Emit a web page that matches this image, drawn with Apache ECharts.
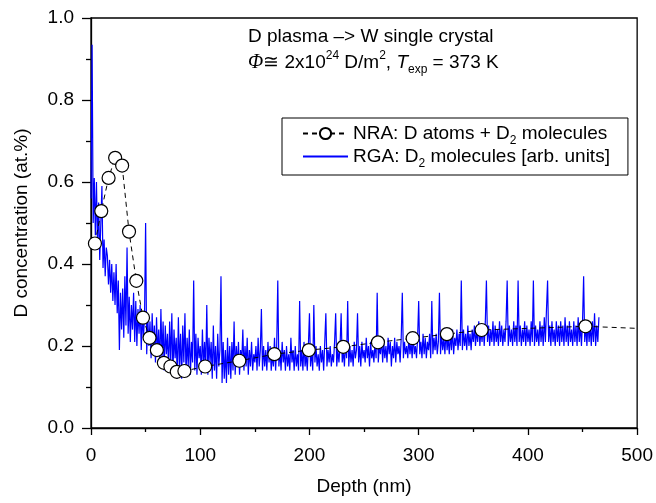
<!DOCTYPE html>
<html>
<head>
<meta charset="utf-8">
<script src="https://cdn.jsdelivr.net/npm/echarts@6/dist/echarts.min.js"></script>
<style>html,body{margin:0;padding:0;background:#fff}#c{width:656px;height:503px}</style>
</head>
<body>
<div id="c"></div>
<script>
// NRA: D atoms + D2 molecules (depth nm, concentration at.%)
const nraDepth = [3.6, 9.4, 16.1, 22.1, 28.5, 34.8, 41.5, 47.6, 53.6, 60.3, 66.7, 72.7, 78.5, 85.5, 104.5, 135.8, 167.9, 199.4, 230.9, 262.7, 294.5, 325.8, 357.6, 452.7, 500];
const nraConc  = [0.45, 0.529, 0.61, 0.659, 0.64, 0.479, 0.359, 0.269, 0.22, 0.19, 0.159, 0.15, 0.137, 0.139, 0.15, 0.164, 0.18, 0.19, 0.198, 0.209, 0.219, 0.229, 0.239, 0.248, 0.243];
// RGA: D2 molecules, sampled every 1 nm from 0 nm
const rgaStart = 0;
const rgaStep = 1;
const rgaValues = [
0.56,0.935,0.50,0.61,0.47,0.60,0.44,0.55,0.41,0.50,
0.59,0.39,0.46,0.37,0.44,0.42,0.35,0.41,0.33,0.40,
0.31,0.38,0.30,0.40,0.28,0.36,0.19,0.33,0.24,0.34,
0.22,0.37,0.25,0.44,0.23,0.32,0.21,0.30,0.24,0.33,
0.21,0.31,0.20,0.29,0.23,0.30,0.19,0.28,0.22,0.27,
0.50,0.18,0.27,0.20,0.26,0.17,0.28,0.19,0.25,0.16,
0.27,0.18,0.24,0.15,0.29,0.17,0.26,0.14,0.25,0.18,
0.23,0.14,0.26,0.16,0.28,0.13,0.24,0.17,0.22,0.12,
0.27,0.15,0.23,0.12,0.25,0.16,0.28,0.13,0.22,0.15,
0.24,0.13,0.21,0.16,0.36,0.14,0.23,0.13,0.22,0.17,
0.20,0.13,0.24,0.15,0.21,0.14,0.30,0.13,0.22,0.16,
0.21,0.12,0.25,0.14,0.20,0.12,0.23,0.15,0.19,0.37,
0.11,0.21,0.12,0.19,0.11,0.22,0.13,0.20,0.12,0.21,
0.14,0.26,0.13,0.20,0.15,0.21,0.13,0.19,0.16,0.24,
0.14,0.20,0.15,0.22,0.13,0.19,0.15,0.21,0.14,0.18,
0.16,0.20,0.14,0.22,0.15,0.19,0.29,0.14,0.20,0.15,
0.19,0.14,0.21,0.16,0.20,0.14,0.18,0.15,0.22,0.14,
0.20,0.36,0.15,0.19,0.14,0.21,0.16,0.19,0.14,0.20,
0.15,0.18,0.14,0.22,0.16,0.19,0.14,0.20,0.15,0.18,
0.14,0.31,0.15,0.19,0.14,0.21,0.15,0.18,0.14,0.20,
0.28,0.15,0.19,0.14,0.30,0.16,0.20,0.15,0.18,0.14,
0.20,0.16,0.19,0.14,0.21,0.28,0.15,0.19,0.16,0.20,
0.15,0.18,0.16,0.21,0.28,0.15,0.19,0.16,0.20,0.28,
0.16,0.19,0.15,0.21,0.17,0.31,0.15,0.20,0.16,0.19,
0.15,0.21,0.17,0.19,0.28,0.16,0.20,0.15,0.21,0.17,
0.19,0.16,0.22,0.17,0.20,0.15,0.21,0.17,0.19,0.16,
0.21,0.17,0.33,0.16,0.20,0.18,0.22,0.16,0.21,0.17,
0.20,0.16,0.22,0.18,0.21,0.15,0.20,0.17,0.22,0.16,
0.21,0.18,0.20,0.16,0.22,0.33,0.17,0.21,0.18,0.20,
0.17,0.22,0.18,0.21,0.17,0.23,0.18,0.20,0.17,0.22,
0.31,0.18,0.21,0.17,0.23,0.18,0.22,0.17,0.21,0.19,
0.23,0.17,0.31,0.18,0.22,0.19,0.23,0.18,0.21,0.33,
0.18,0.23,0.19,0.22,0.18,0.24,0.19,0.22,0.18,0.23,
0.19,0.24,0.18,0.22,0.20,0.24,0.19,0.23,0.20,0.36,
0.19,0.24,0.20,0.23,0.19,0.25,0.20,0.23,0.19,0.24,
0.21,0.25,0.20,0.24,0.21,0.26,0.20,0.24,0.21,0.25,
0.20,0.26,0.36,0.21,0.25,0.20,0.24,0.21,0.26,0.20,
0.25,0.21,0.24,0.20,0.26,0.21,0.25,0.20,0.24,0.21,
0.26,0.36,0.20,0.25,0.21,0.24,0.20,0.26,0.21,0.25,
0.20,0.36,0.21,0.25,0.20,0.24,0.21,0.26,0.20,0.25,
0.21,0.24,0.20,0.26,0.21,0.36,0.20,0.25,0.21,0.24,
0.20,0.26,0.21,0.25,0.20,0.27,0.21,0.29,0.36,0.21,
0.25,0.20,0.26,0.21,0.24,0.20,0.26,0.21,0.25,0.20,
0.26,0.21,0.25,0.20,0.27,0.21,0.25,0.20,0.26,0.21,
0.24,0.20,0.26,0.21,0.25,0.20,0.27,0.21,0.25,0.20,
0.26,0.37,0.21,0.25,0.20,0.26,0.21,0.25,0.20,0.26,
0.21,0.28,0.20,0.25,0.21,0.27
];
const xTicks = {min: 0, max: 500, interval: 100};
const yTicks = {min: 0, max: 1.0, interval: 0.2};

const FONT = '"Liberation Sans", Arial, Helvetica, sans-serif';
const nraData = nraDepth.map((d, i) => (i === nraDepth.length - 1)
  ? {value: [d, nraConc[i]], symbol: 'none'}
  : [d, nraConc[i]]);
const rgaData = rgaValues.map((v, i) => [rgaStart + i * rgaStep, v]);

const chart = echarts.init(document.getElementById('c'), null, {renderer: 'canvas'});
const axisCommon = {
  axisLine: {show: true, lineStyle: {color: '#000', width: 1.3}},
  splitLine: {show: false},
  axisLabel: {color: '#000', fontSize: 19, fontFamily: FONT, margin: 17},
  nameTextStyle: {color: '#000', fontSize: 19, fontFamily: FONT},
  nameLocation: 'middle'
};
chart.setOption({
  animation: false,
  backgroundColor: '#fff',
  grid: {left: 91, right: 15, top: 18, bottom: 75, show: true, borderColor: '#000', borderWidth: 1.3, backgroundColor: 'transparent'},
  xAxis: Object.assign({}, axisCommon, {
    type: 'value', min: xTicks.min, max: xTicks.max, interval: xTicks.interval,
    name: 'Depth (nm)', nameGap: 49,
    axisTick: {show: true, inside: false, length: 7, lineStyle: {color: '#000', width: 1.3}},
    minorTick: {show: true, splitNumber: 2, length: 4, lineStyle: {color: '#000', width: 1.3}},
    axisLabel: Object.assign({}, axisCommon.axisLabel, {margin: 18})
  }),
  yAxis: Object.assign({}, axisCommon, {
    type: 'value', min: yTicks.min, max: yTicks.max, interval: yTicks.interval,
    name: 'D concentration (at.%)', nameGap: 60,
    axisTick: {show: true, inside: false, length: 9, lineStyle: {color: '#000', width: 1.3}},
    minorTick: {show: true, splitNumber: 2, length: 5, lineStyle: {color: '#000', width: 1.3}},
    axisLabel: Object.assign({}, axisCommon.axisLabel, {formatter: v => v.toFixed(1)})
  }),
  legend: {
    orient: 'vertical', left: 282, top: 118,
    padding: [6, 18, 5, 20], itemGap: 0, itemWidth: 45, itemHeight: 14,
    borderColor: '#000', borderWidth: 1, backgroundColor: '#fff',
    data: [
      {name: 'NRA'},
      {name: 'RGA', itemStyle: {opacity: 0, borderWidth: 0}}
    ],
    formatter: function (name) {
      if (name === 'NRA') return '{a|NRA: D atoms + D}{s|2}{a| molecules}';
      return '{a|RGA: D}{s|2}{a| molecules [arb. units]}';
    },
    textStyle: {
      color: '#000', fontSize: 19, fontFamily: FONT,
      rich: {
        a: {fontSize: 19, fontFamily: FONT, color: '#000', lineHeight: 27},
        s: {fontSize: 12, fontFamily: FONT, color: '#000', lineHeight: 4, verticalAlign: 'bottom'}
      }
    }
  },
  graphic: [
    {type: 'text', left: 248, top: 27, z: 100, style: {text: 'D plasma –> W single crystal', fontSize: 19, fontFamily: FONT, fill: '#000'}},
    {type: 'text', left: 248, top: 50, z: 100, style: {
      text: '{i|Φ}{n|≅ 2x10}{p|24}{n| D/m}{p|2}{n|, }{t|T}{b|exp}{n| = 373 K}',
      fontSize: 19, fontFamily: FONT, fill: '#000',
      rich: {
        i: {fontSize: 20, fontFamily: '"Liberation Serif", serif', fontStyle: 'italic', fill: '#000', lineHeight: 26},
        n: {fontSize: 19, fontFamily: FONT, fill: '#000', lineHeight: 26},
        t: {fontSize: 19, fontFamily: FONT, fontStyle: 'italic', fill: '#000', lineHeight: 26},
        p: {fontSize: 12, fontFamily: FONT, fill: '#000', lineHeight: 8, verticalAlign: 'top'},
        b: {fontSize: 12, fontFamily: FONT, fill: '#000', lineHeight: 4, verticalAlign: 'bottom'}
      }
    }}
  ],
  series: [
    {
      name: 'RGA', type: 'line', data: rgaData, showSymbol: false, symbol: 'none', z: 2,
      lineStyle: {color: '#0000ff', width: 1.2}, itemStyle: {color: '#0000ff'}
    },
    {
      name: 'NRA', type: 'line', data: nraData, z: 3,
      symbol: 'circle', symbolSize: 13, showSymbol: true,
      lineStyle: {color: '#000', width: 1, type: [5, 4]},
      itemStyle: {color: '#fff', borderColor: '#000', borderWidth: 1.2}
    }
  ]
});
</script>
</body>
</html>
